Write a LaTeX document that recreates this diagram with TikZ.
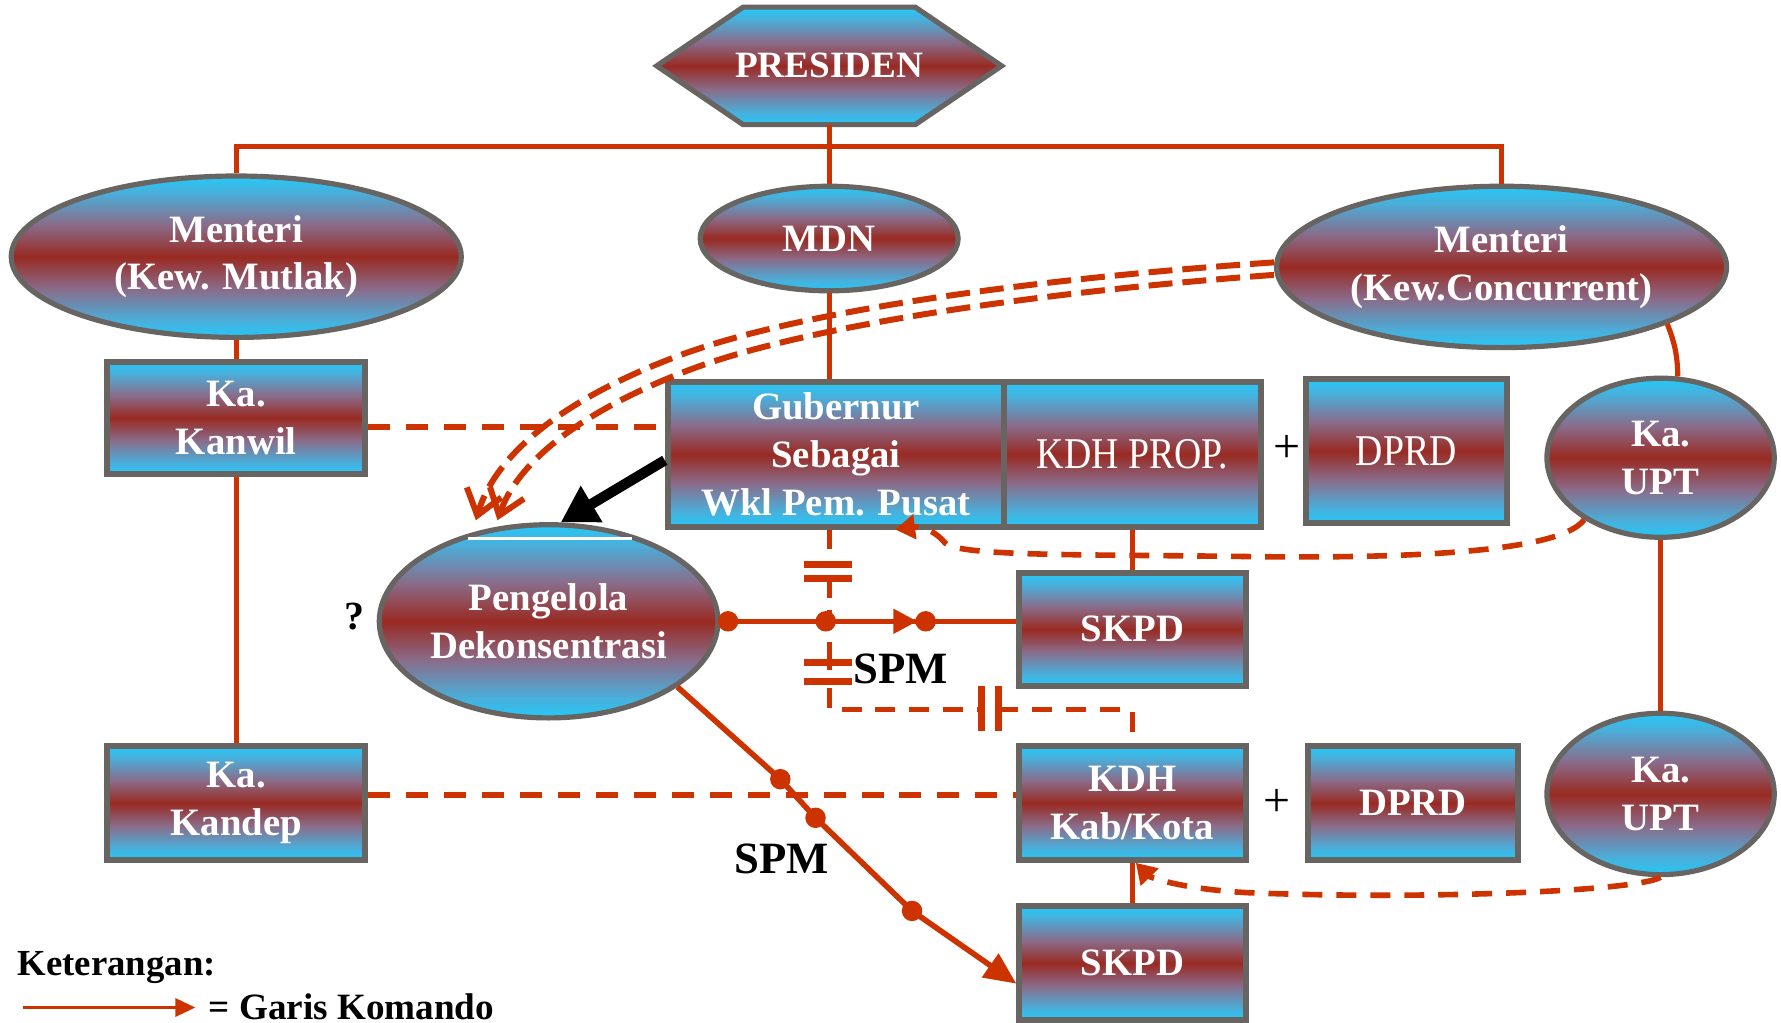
\documentclass[tikz,border=0pt]{standalone}
\usepackage{fontspec}
\setmainfont{Liberation Serif}
\usepackage{graphicx}
\usetikzlibrary{shapes.geometric,arrows.meta,backgrounds,calc,decorations.markings}
\definecolor{cyanx}{HTML}{24C8F8}
\definecolor{cyanm}{HTML}{48B0DC}
\definecolor{mauvex}{HTML}{8A6C8A}
\definecolor{redx}{HTML}{992A22}
\definecolor{linered}{HTML}{CC3300}
\definecolor{bordergray}{HTML}{686462}
\pgfdeclareverticalshading{cyred}{100bp}{color(0bp)=(cyanx); color(25bp)=(cyanx); color(30bp)=(cyanm); color(40bp)=(mauvex); color(50bp)=(redx); color(60bp)=(mauvex); color(70bp)=(cyanm); color(75bp)=(cyanx); color(100bp)=(cyanx)}
\begin{document}
\begin{tikzpicture}[x=0.01cm,y=-0.01cm,
  lbl/.style={text=white,font=\bfseries\fontsize{9.7}{12}\selectfont,align=center},
  ebox/.style={ellipse,draw=bordergray,line width=1.3pt,shade,shading=cyred,inner sep=0pt,lbl},
  rbox/.style={rectangle,draw=bordergray,line width=1.5pt,shade,shading=cyred,inner sep=0pt,lbl},
  condtxt/.style={font=\fontsize{11}{12}\selectfont},
  cmd/.style={color=linered,line width=1.3pt},
  dashln/.style={color=linered,line width=1.3pt,dash pattern=on 5.5pt off 4pt},
  curvdash/.style={color=linered,line width=1.4pt,dash pattern=on 5pt off 3.5pt},
  dbldash/.style={color=linered,line width=1.5pt,dash pattern=on 6pt off 2.5pt},
  capbar/.style={color=linered,line width=1.8pt},
  blacktxt/.style={text=black,font=\bfseries\fontsize{11}{12}\selectfont},
]
\useasboundingbox (0,0) rectangle (1568,900);

% nodes
\node[lbl,minimum width=3.02cm,minimum height=1.02cm,inner sep=0pt,font=\bfseries\fontsize{9.3}{12}\selectfont] (pres) at (730,58) {PRESIDEN};
\node[ebox,minimum width=3.96cm,minimum height=1.42cm] (ml) at (208,226) {Menteri\\(Kew. Mutlak)};
\node[ebox,minimum width=2.27cm,minimum height=0.92cm] (mdn) at (730,210) {MDN};
\node[ebox,minimum width=3.96cm,minimum height=1.42cm] (mr) at (1322,235) {Menteri\\(Kew.Concurrent)};
\node[rbox,minimum width=2.27cm,minimum height=0.99cm] (kanwil) at (208,368) {Ka.\\Kanwil};
\node[rbox,minimum width=2.27cm,minimum height=1.00cm] (kandep) at (208,707) {Ka.\\Kandep};
\node[rbox,minimum width=2.96cm,minimum height=1.27cm] (gub) at (736,400) {Gubernur\\Sebagai\\Wkl Pem. Pusat};
\node[rbox,minimum width=2.26cm,minimum height=1.27cm,condtxt] (kdhp) at (997,400) {\scalebox{0.86}[1]{KDH PROP.}};
\node[rbox,minimum width=1.77cm,minimum height=1.27cm,condtxt] (dprd1) at (1238,397) {\scalebox{0.86}[1]{DPRD}};
\node[ebox,minimum width=2.00cm,minimum height=1.40cm] (upt1) at (1462,403) {Ka.\\UPT};
\node[ebox,minimum width=2.00cm,minimum height=1.42cm] (upt2) at (1462,699) {Ka.\\UPT};
\node[ebox,minimum width=2.98cm,minimum height=1.70cm] (pen) at (483,547) {Pengelola\\Dekonsentrasi};
\node[rbox,minimum width=1.99cm,minimum height=0.99cm] (skpd1) at (997,554) {SKPD};
\node[rbox,minimum width=1.99cm,minimum height=1.00cm] (kdhk) at (997,707) {KDH\\Kab/Kota};
\node[rbox,minimum width=1.85cm,minimum height=1.00cm] (dprd2) at (1244,707) {DPRD};
\node[rbox,minimum width=1.99cm,minimum height=1.00cm] (skpd2) at (997,848) {SKPD};

% white artifact line inside Pengelola
\draw[white,line width=0.6pt] (412,474) -- (556,474);

% background: white page and hexagon
\begin{scope}[on background layer]
  \fill[white] (0,0) rectangle (1568,900);
  \draw[draw=bordergray,line width=1.3pt,shade,shading=cyred]
    (pres.west) -- ([xshift=0.76cm]pres.north west) -- ([xshift=-0.76cm]pres.north east)
    -- (pres.east) -- ([xshift=-0.76cm]pres.south east) -- ([xshift=0.76cm]pres.south west) -- cycle;
\end{scope}

% solid command lines
\coordinate (bar) at (730,129);
\draw[cmd] (pres.south) -- (mdn.north);
\draw[cmd] (ml.north) -- (ml.north |- bar) -- (mr.north |- bar) -- (mr.north);
\draw[cmd] (ml.south) -- (kanwil.north);
\draw[cmd] (kanwil.south) -- (kandep.north);
\draw[cmd] (mdn.south) -- (mdn.south |- gub.north);
\draw[cmd] (kdhp.south) -- (skpd1.north);
\draw[cmd] (kdhk.south) -- (skpd2.north);
\draw[cmd] (mr.-19) to[bend left=10] (upt1.78);
\draw[cmd] (upt1.south) -- (upt2.north);

% dashed coordination lines
\coordinate (k1) at ([yshift=-0.08cm]kanwil.east);
\draw[dashln] (k1) -- (k1 -| gub.west);
\coordinate (k2) at ([yshift=0.07cm]kandep.east);
\draw[dashln] (k2) -- (k2 -| kdhk.west);

% double dashed curves from Menteri (Kew.Concurrent) to Pengelola
\coordinate (u0) at ([yshift=0.04cm]mr.west);
\coordinate (l0) at ([yshift=-0.07cm]mr.west);
\draw[dbldash,-{Straight Barb[length=6pt,width=9pt]}] (u0) .. controls (900,246) and (700,275) .. (598,313)
  .. controls (496,351) and (436,400) .. (419,458);
\draw[dbldash,-{Straight Barb[length=6pt,width=9pt]}] (l0) .. controls (903,258) and (706,288) .. (606,326)
  .. controls (512,362) and (456,406) .. (438,458);

% black arrow Gubernur -> Pengelola
\draw[black,line width=2.6pt,-{Triangle[length=9pt,width=10pt]}] (gub.182) -- (pen.83);

% dashed curve Ka. UPT (top) -> Gubernur
\coordinate (gubtip) at ([xshift=0.52cm]gub.south);
\draw[curvdash,-{Triangle[length=5pt,width=6pt]}] (upt1.219) .. controls (1375,485) and (1250,492) .. (1100,490)
  .. controls (950,488) and (845,490) .. (832,478) .. controls (824,468) and (812,463) .. (gubtip);

% dashed curve Ka. UPT (bottom) -> KDH Kab/Kota
\coordinate (kdhtip) at ([xshift=0.03cm]kdhk.south);
\draw[curvdash,-{Triangle[length=5pt,width=6pt]}] (upt2.south) .. controls (1440,785) and (1250,792) .. (1100,786)
  .. controls (1040,783) and (1012,772) .. (kdhtip);

% SPM horizontal line Pengelola -> SKPD
\draw[cmd,postaction={decorate},decoration={markings,mark=at position 0.665 with {\arrow{Triangle[length=6pt,width=6pt]}}}]
  (pen.east) -- (pen.east -| skpd1.west);
\fill[linered] (641,547) circle[radius=0.09cm];
\fill[linered] (727,547) circle[radius=0.09cm];
\fill[linered] (815,547) circle[radius=0.09cm];

% SPM diagonal Pengelola -> SKPD (bottom)
\coordinate (sk2in) at ([yshift=-0.18cm]skpd2.west);
\draw[cmd,line width=1.4pt,-{Triangle[length=8pt,width=7pt]}] (pen.-27) -- (687,686) -- (718,720) -- (803,802) -- (sk2in);
\fill[linered] (687,686) circle[radius=0.09cm];
\fill[linered] (718,720) circle[radius=0.09cm];
\fill[linered] (803,802) circle[radius=0.09cm];

% dashed line with capacitor symbols Gubernur -> KDH Kab/Kota
\coordinate (g0) at (mdn.south |- gub.south);
\draw[dashln,dash pattern=on 5pt off 3pt] (g0) -- (730,497);
\draw[capbar] (708,497) -- (750,497);
\draw[capbar] (708,509) -- (750,509);
\draw[dashln,dash pattern=on 5pt off 3pt] (730,509) -- (730,583);
\draw[capbar] (708,583) -- (750,583);
\draw[capbar] (708,600) -- (750,600);
\draw[cmd] (730,577) -- (730,590);
\draw[dashln,dash pattern=on 5pt off 3.5pt] (730,606) -- (730,625) -- (864,625);
\draw[capbar] (864,604) -- (864,644);
\draw[capbar] (879,604) -- (879,644);
\coordinate (cd) at (kdhk.north |- 0,625);
\draw[dashln,dash pattern=on 5pt off 3.5pt] (879,625) -- (cd) -- (kdhk.north);

% labels
\node[blacktxt,font=\bfseries\fontsize{11.2}{12}\selectfont] (spm1) at (793,589) {SPM};
\node[blacktxt,font=\bfseries\fontsize{11.2}{12}\selectfont] (spm2) at (688,756) {SPM};
\node[blacktxt,font=\bfseries\fontsize{10}{12}\selectfont] (q) at (312,543) {?};
\node[text=black,font=\fontsize{12}{12}\selectfont] (plus1) at (1133,395) {+};
\node[text=black,font=\fontsize{12}{12}\selectfont] (plus2) at (1124,707) {+};

% legend
\node[anchor=west,text=black,font=\bfseries\fontsize{9.2}{11}\selectfont,inner sep=0pt] (ket) at (15,852) {Keterangan:};
\coordinate (lg1) at (20,887);
\coordinate (lg2) at (172,887);
\draw[color=linered,line width=0.8pt,-{Triangle[length=5pt,width=4.5pt]}] (lg1) -- (lg2);
\node[anchor=base west,text=black,font=\bfseries\fontsize{9.3}{11}\selectfont,inner sep=0pt] (gk) at (183,898) {= Garis Komando};
\end{tikzpicture}
\end{document}
